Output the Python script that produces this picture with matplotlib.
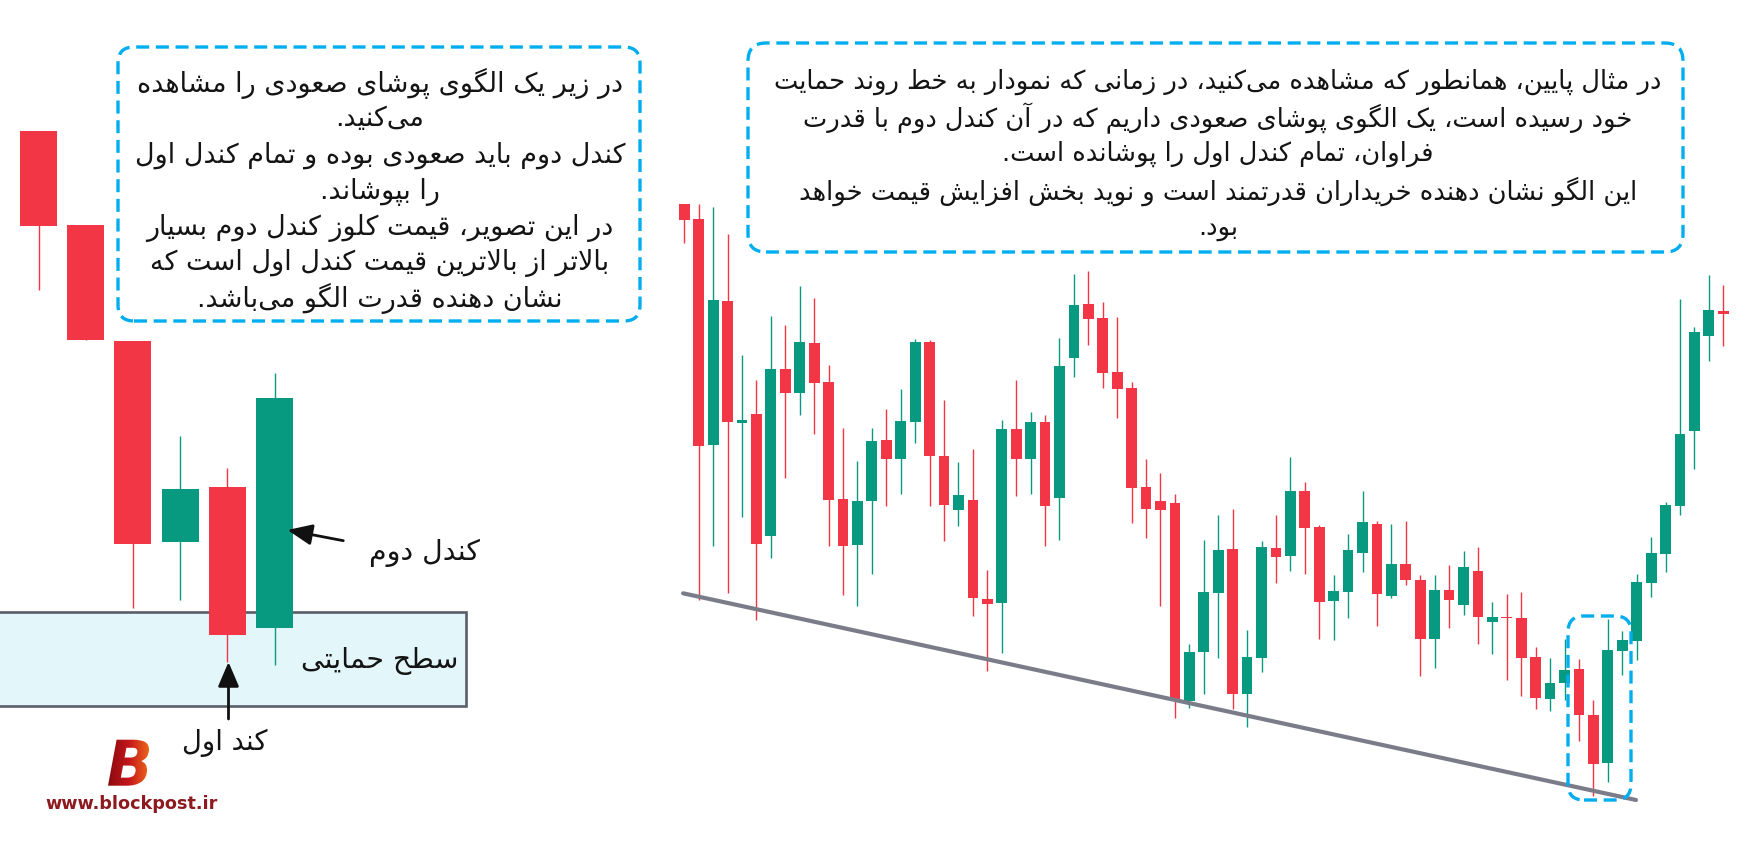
import numpy as np
import matplotlib
matplotlib.use("Agg")
import matplotlib.pyplot as plt
import matplotlib.transforms as mtrans
from matplotlib.patches import FancyBboxPatch, Rectangle, PathPatch
from matplotlib.textpath import TextPath
from matplotlib.font_manager import FontProperties
from matplotlib.colors import LinearSegmentedColormap

# ---------------- data (price units) ----------------
# main chart: 73 candles
main_open = [640, 625, 399, 543, 421, 430, 308, 475, 451, 501, 462, 345, 299, 343, 404, 385,
             422, 502, 388, 334, 344, 245, 241, 415, 385, 422, 346, 486, 540, 526, 472, 456,
             357, 343, 341, 143, 192, 251, 295, 150, 186, 296, 288, 353, 317, 243, 252, 291,
             320, 248, 280, 264, 205, 254, 239, 273, 222, 227, 226, 187, 145, 161, 175, 129,
             81, 193, 203, 261, 290, 338, 413, 508, 533]
main_high = [640, 640, 637, 610, 489, 464, 528, 519, 558, 546, 479, 416, 383, 416, 435, 455,
             505, 504, 444, 382, 395, 274, 424, 464, 432, 429, 506, 570, 573, 542, 527, 462,
             385, 371, 350, 200, 304, 329, 335, 214, 303, 329, 387, 362, 319, 269, 310, 353,
             323, 320, 323, 269, 269, 279, 293, 297, 242, 250, 252, 197, 186, 205, 185, 144,
             225, 213, 270, 307, 342, 545, 517, 569, 559]
main_low = [601, 244, 298, 251, 327, 224, 286, 366, 429, 410, 298, 249, 238, 270, 338, 350,
            401, 338, 303, 318, 228, 173, 191, 348, 350, 298, 304, 467, 499, 456, 426, 321,
            306, 238, 126, 136, 150, 186, 135, 117, 172, 261, 273, 270, 205, 204, 226, 272,
            218, 246, 259, 168, 176, 216, 229, 200, 190, 164, 148, 135, 133, 144, 103, 48,
            62, 169, 184, 247, 272, 329, 375, 483, 498]
main_close = [624, 398, 544, 422, 424, 300, 475, 451, 502, 461, 344, 298, 343, 403, 385, 423,
              502, 388, 339, 349, 246, 240, 415, 385, 422, 338, 478, 539, 525, 471, 455, 356,
              335, 334, 143, 192, 252, 294, 150, 187, 297, 287, 353, 316, 242, 253, 294, 322,
              250, 280, 264, 205, 254, 244, 277, 227, 227, 226, 186, 146, 161, 174, 129, 80,
              194, 204, 262, 291, 339, 410, 512, 534, 530]
trend_idx = [-0.08, 65.95]
trend_val = [250.7, 44.0]

# left illustration: 6 candles
left_open = [713, 619, 503, 302, 357, 216]
left_high = [713, 619, 503, 408, 376, 471]
left_low = [554, 504, 236, 244, 182, 179]
left_close = [618, 504, 300, 355, 209, 446]

left_box_lines = [
    "در زیر یک الگوی پوشای صعودی را مشاهده",
    "می\u200cکنید.",
    "کندل دوم باید صعودی بوده و تمام کندل اول",
    "را بپوشاند.",
    "در این تصویر، قیمت کلوز کندل دوم بسیار",
    "بالاتر از بالاترین قیمت کندل اول است که",
    "نشان دهنده قدرت الگو می\u200cباشد.",
]
right_box_lines = [
    "در مثال پایین، همانطور که مشاهده می\u200cکنید، در زمانی که نمودار به خط روند حمایت",
    "خود رسیده است، یک الگوی پوشای صعودی داریم که در آن کندل دوم با قدرت",
    "فراوان، تمام کندل اول را پوشانده است.",
    "این الگو نشان دهنده خریداران قدرتمند است و نوید بخش افزایش قیمت خواهد",
    "بود.",
]
label_second = "کندل دوم"
label_first = "کند اول"
label_support = "سطح حمایتی"
site_text = "www.blockpost.ir"

# ---------------- simple Arabic/Persian shaper ----------------
FORMS = {
    '\u0627': ('\uFE8D', '\uFE8E', None, None),
    '\u0622': ('\uFE81', '\uFE82', None, None),
    '\u0628': ('\uFE8F', '\uFE90', '\uFE91', '\uFE92'),
    '\u067E': ('\uFB56', '\uFB57', '\uFB58', '\uFB59'),
    '\u062A': ('\uFE95', '\uFE96', '\uFE97', '\uFE98'),
    '\u062B': ('\uFE99', '\uFE9A', '\uFE9B', '\uFE9C'),
    '\u062C': ('\uFE9D', '\uFE9E', '\uFE9F', '\uFEA0'),
    '\u0686': ('\uFB7A', '\uFB7B', '\uFB7C', '\uFB7D'),
    '\u062D': ('\uFEA1', '\uFEA2', '\uFEA3', '\uFEA4'),
    '\u062E': ('\uFEA5', '\uFEA6', '\uFEA7', '\uFEA8'),
    '\u062F': ('\uFEA9', '\uFEAA', None, None),
    '\u0630': ('\uFEAB', '\uFEAC', None, None),
    '\u0631': ('\uFEAD', '\uFEAE', None, None),
    '\u0632': ('\uFEAF', '\uFEB0', None, None),
    '\u0698': ('\uFB8A', '\uFB8B', None, None),
    '\u0633': ('\uFEB1', '\uFEB2', '\uFEB3', '\uFEB4'),
    '\u0634': ('\uFEB5', '\uFEB6', '\uFEB7', '\uFEB8'),
    '\u0635': ('\uFEB9', '\uFEBA', '\uFEBB', '\uFEBC'),
    '\u0636': ('\uFEBD', '\uFEBE', '\uFEBF', '\uFEC0'),
    '\u0637': ('\uFEC1', '\uFEC2', '\uFEC3', '\uFEC4'),
    '\u0638': ('\uFEC5', '\uFEC6', '\uFEC7', '\uFEC8'),
    '\u0639': ('\uFEC9', '\uFECA', '\uFECB', '\uFECC'),
    '\u063A': ('\uFECD', '\uFECE', '\uFECF', '\uFED0'),
    '\u0641': ('\uFED1', '\uFED2', '\uFED3', '\uFED4'),
    '\u0642': ('\uFED5', '\uFED6', '\uFED7', '\uFED8'),
    '\u06A9': ('\uFB8E', '\uFB8F', '\uFB90', '\uFB91'),
    '\u06AF': ('\uFB92', '\uFB93', '\uFB94', '\uFB95'),
    '\u0644': ('\uFEDD', '\uFEDE', '\uFEDF', '\uFEE0'),
    '\u0645': ('\uFEE1', '\uFEE2', '\uFEE3', '\uFEE4'),
    '\u0646': ('\uFEE5', '\uFEE6', '\uFEE7', '\uFEE8'),
    '\u0648': ('\uFEED', '\uFEEE', None, None),
    '\u0647': ('\uFEE9', '\uFEEA', '\uFEEB', '\uFEEC'),
    '\u06CC': ('\uFBFC', '\uFBFD', '\uFBFE', '\uFBFF'),
}
LAM_ALEF = {'\u0627': ('\uFEFB', '\uFEFC'), '\u0622': ('\uFEF5', '\uFEF6')}


def jtype(c):
    if c in FORMS:
        return 'D' if FORMS[c][2] is not None else 'R'
    return 'U'


def shape(text):
    ch = list(text)
    n = len(ch)
    res = []
    i = 0
    while i < n:
        c = ch[i]
        prev_joins = i > 0 and jtype(ch[i - 1]) == 'D'
        if c == '\u0644' and i + 1 < n and ch[i + 1] in LAM_ALEF:
            iso, fin = LAM_ALEF[ch[i + 1]]
            res.append(fin if prev_joins else iso)
            i += 2
            continue
        if c not in FORMS:
            if c != '\u200c':
                res.append(c)
            i += 1
            continue
        nxt = ch[i + 1] if i + 1 < n else None
        joins_next = jtype(c) == 'D' and nxt is not None and jtype(nxt) in ('D', 'R')
        iso, fin, ini, med = FORMS[c]
        if prev_joins and joins_next:
            g = med
        elif prev_joins:
            g = fin
        elif joins_next:
            g = ini
        else:
            g = iso
        res.append(g)
        i += 1
    return ''.join(reversed(res))


# ---------------- figure ----------------
W, H = 1763, 845
fig = plt.figure(figsize=(W / 100, H / 100), dpi=100)
ax = fig.add_axes([0, 0, 1, 1])
ax.set_xlim(0, W)
ax.set_ylim(0, H)
ax.axis('off')

RED = '#f23645'
GREEN = '#089981'
BLUE = '#00aeef'
TXT = '#141414'
FONT = 'DejaVu Sans'


def Y(y_px):
    return H - y_px


def draw_candles(o, h, l, c, x0, dx, bw, wick_lw, z=3):
    o, h, l, c = map(np.asarray, (o, h, l, c))
    x = x0 + dx * np.arange(len(o))
    cols = np.where(c >= o, GREEN, RED)
    ax.vlines(x, l, h, colors=cols, lw=wick_lw, zorder=z)
    ax.bar(x, np.maximum(np.abs(c - o), 1.2), bottom=np.minimum(o, c), width=bw,
           color=cols, linewidth=0, zorder=z + 0.1)


# main chart
MX0, MDX = 684.3, 14.43
draw_candles(main_open, main_high, main_low, main_close, MX0, MDX, 10.8, 1.0)
ax.plot(MX0 + MDX * np.asarray(trend_idx), trend_val, color='#7b7c89', lw=3.0,
        solid_capstyle='round', zorder=4)

# left illustration
ax.add_patch(Rectangle((-10, Y(707.3)), 476, 707.3 - 613.3, facecolor='#e3f6f9',
                       edgecolor='#5b5e69', lw=1.9, zorder=1))
draw_candles(left_open, left_high, left_low, left_close, 38.5, 47.2, 37.0, 1.0)


# dashed rounded boxes
def dbox(x0, y0, x1, y1, r):
    ax.add_patch(FancyBboxPatch((x0, Y(y1)), x1 - x0, y1 - y0,
                                boxstyle=f"round,pad=0,rounding_size={r}", fill=False,
                                edgecolor=BLUE, lw=2.4, linestyle=(0, (3.9, 2.0)), zorder=6))


dbox(118, 48, 640, 322, 16)
dbox(748, 44, 1683, 253, 18)
dbox(1568, 617, 1631, 801, 16)

# texts
texts_left = []
left_y = [83.3, 119.3, 155, 191.7, 228.3, 263.3, 298.3]
for s, yy in zip(left_box_lines, left_y):
    texts_left.append(ax.text(380, Y(yy), shape(s), ha='center', va='center', fontsize=16,
                              family=FONT, color=TXT, zorder=7))
texts_right = []
right_y = [81.7, 118.3, 154, 191.7, 228.3]
for s, yy in zip(right_box_lines, right_y):
    texts_right.append(ax.text(1218, Y(yy), shape(s), ha='center', va='center', fontsize=16,
                               family=FONT, color=TXT, zorder=7))
t_second = ax.text(424, Y(553), shape(label_second), ha='center', va='center', fontsize=16,
                   family=FONT, color=TXT, zorder=7)
t_support = ax.text(379.5, Y(661), shape(label_support), ha='center', va='center', fontsize=20,
                    family=FONT, color=TXT, zorder=7)
t_first = ax.text(224.5, Y(743.3), shape(label_first), ha='center', va='center', fontsize=16,
                  family=FONT, color=TXT, zorder=7)
t_site = ax.text(132, Y(804), site_text, ha='center', va='center', fontsize=12,
                 family=FONT, fontweight='bold', color='#8c1a1f', zorder=7)

# arrows
arrow_kw = dict(arrowstyle='-|>,head_length=0.75,head_width=0.32', color='#111111', lw=2.0,
                mutation_scale=20, shrinkA=0, shrinkB=0)
ax.annotate('', xy=(287.5, Y(531)), xytext=(343.3, Y(541.7)), arrowprops=arrow_kw, zorder=8)
ax.annotate('', xy=(228.5, Y(663)), xytext=(228.5, Y(720)), arrowprops=arrow_kw, zorder=8)

# fit text widths to the reference
fig.canvas.draw()
rend = fig.canvas.get_renderer()


def fit_group(txts, target):
    w = max(t.get_window_extent(renderer=rend).width for t in txts)
    k = target / w
    for t in txts:
        t.set_fontsize(t.get_fontsize() * k)


fit_group(texts_left, 490)
fit_group(texts_right, 888)
fit_group([t_second], 111)
fit_group([t_support], 157)
fit_group([t_first], 86)
fit_group([t_site], 172)

# logo "B" with gradient
fp = FontProperties(family=FONT, weight='bold', style='italic')
tp = TextPath((0, 0), 'B', size=60, prop=fp)
bb = tp.get_extents()
tr = mtrans.Affine2D().translate(-bb.x0, -bb.y0).scale(41 / bb.width, 46 / bb.height) \
    .translate(108, Y(786.7))
bpath = tr.transform_path(tp)
bpatch = PathPatch(bpath, facecolor='none', edgecolor='none', zorder=7)
ax.add_patch(bpatch)
cmap = LinearSegmentedColormap.from_list('logo', ['#8a0a0e', '#c4161c', '#ee6a1b'])
im = ax.imshow(np.linspace(0, 1, 256).reshape(1, -1), extent=[108, 150, Y(787), Y(740)],
               cmap=cmap, aspect='auto', zorder=7, interpolation='bilinear')
im.set_clip_path(bpatch)
ax.set_xlim(0, W)
ax.set_ylim(0, H)

fig.savefig('out.png', dpi=100)
